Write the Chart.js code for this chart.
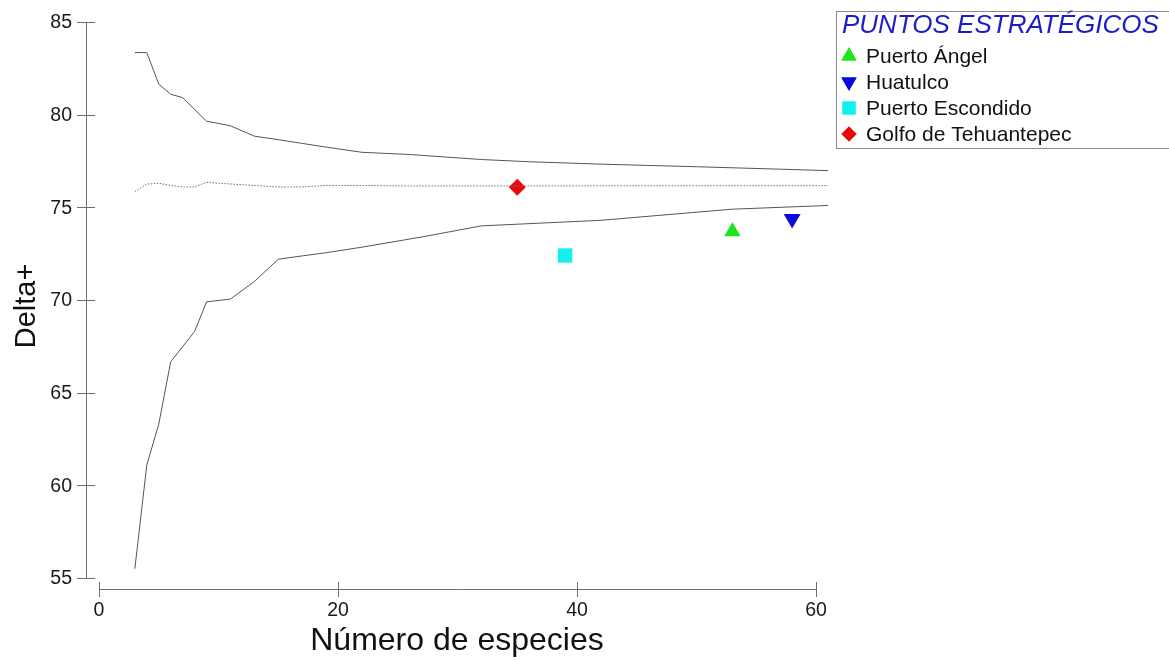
<!DOCTYPE html>
<html>
<head>
<meta charset="utf-8">
<script src="https://cdn.jsdelivr.net/npm/chart.js@4/dist/chart.umd.min.js"></script>
<style>
  html, body { margin: 0; padding: 0; background: #fff; }
  #wrap { width: 1169px; height: 660px; }
</style>
</head>
<body>
<div id="wrap"><canvas id="c" width="1169" height="660"></canvas></div>
<script>
// Funnel of expected Delta+ (95% limits and mean) vs. number of species
const upperX = [3, 4, 5, 6, 7, 9, 11, 13, 15, 17, 19, 22, 26, 32, 36, 42, 50, 58, 61];
const upperY = [83.35, 83.35, 81.65, 81.1, 80.92, 79.65, 79.4, 78.84, 78.65, 78.45, 78.25, 77.97, 77.85, 77.58, 77.46, 77.33, 77.19, 77.04, 76.98];

const meanX = [3, 4, 5, 6, 7, 8, 9, 10, 12, 15, 17, 19, 22, 26, 61];
const meanY = [75.85, 76.25, 76.3, 76.18, 76.1, 76.1, 76.35, 76.3, 76.22, 76.1, 76.1, 76.18, 76.18, 76.15, 76.17];

const lowerX = [3, 4, 5, 6, 7, 8, 9, 11, 13, 15, 17, 19, 22, 27, 32, 42, 53, 61];
const lowerY = [55.5, 61.1, 63.3, 66.67, 67.48, 68.3, 69.9, 70.05, 71.0, 72.2, 72.38, 72.55, 72.85, 73.4, 74.0, 74.3, 74.9, 75.1];

// Sites: number of species and Delta+
const siteNames = ['Puerto Ángel', 'Huatulco', 'Puerto Escondido', 'Golfo de Tehuantepec'];
const siteSpecies = [53, 58, 39, 35];
const siteDelta = [73.7, 74.38, 72.4, 76.08];
const siteColors = ['#1ee61e', '#0a0adc', '#14f0f0', '#e60a0a'];
const siteStyles = ['triangle', 'triangle', 'rect', 'rectRot'];
const siteRotation = [0, 180, 0, 0];
const siteRadius = [9.5, 9.8, 10.2, 8.5];

const legendTitle = 'PUNTOS ESTRATÉGICOS';
const xTitle = 'Número de especies';
const yTitle = 'Delta+';
const xTicks = [0, 20, 40, 60];
const yTicks = [55, 60, 65, 70, 75, 80, 85];

const FONT = '"Liberation Sans", Arial, Helvetica, sans-serif';

function toPoints(xs, ys) { return xs.map((x, i) => ({ x: x, y: ys[i] })); }

const lineStyle = { showLine: true, pointRadius: 0, borderWidth: 1, tension: 0, fill: false };

const datasets = [
  Object.assign({ label: 'upper', data: toPoints(upperX, upperY), borderColor: '#555555' }, lineStyle),
  Object.assign({ label: 'mean', data: toPoints(meanX, meanY), borderColor: '#707070', borderDash: [1.5, 1.5] }, lineStyle),
  Object.assign({ label: 'lower', data: toPoints(lowerX, lowerY), borderColor: '#555555' }, lineStyle)
];
siteNames.forEach((name, i) => {
  datasets.push({
    label: name,
    data: [{ x: siteSpecies[i], y: siteDelta[i] }],
    showLine: false,
    pointStyle: siteStyles[i],
    rotation: siteRotation[i],
    pointRadius: siteRadius[i],
    pointHoverRadius: siteRadius[i],
    backgroundColor: siteColors[i],
    borderColor: siteColors[i],
    borderWidth: 0
  });
});

// Offset axes with ticks crossing the axis line, plus a boxed legend
const axesPlugin = {
  id: 'offsetAxes',
  afterDraw(chart) {
    const ctx = chart.ctx;
    const xs = chart.scales.x, ys = chart.scales.y;
    ctx.save();
    ctx.strokeStyle = '#6e6e6e';
    ctx.lineWidth = 1;

    // y axis
    const ax = 86.5;
    const yTop = ys.getPixelForValue(yTicks[yTicks.length - 1]);
    const yBot = ys.getPixelForValue(yTicks[0]);
    ctx.beginPath();
    ctx.moveTo(ax, yTop); ctx.lineTo(ax, yBot);
    yTicks.forEach(v => {
      const py = Math.round(ys.getPixelForValue(v)) + 0.5;
      ctx.moveTo(77, py); ctx.lineTo(95, py);
    });
    ctx.stroke();
    ctx.fillStyle = '#1a1a1a';
    ctx.font = '19.5px ' + FONT;
    ctx.textAlign = 'right';
    ctx.textBaseline = 'middle';
    yTicks.forEach(v => ctx.fillText(String(v), 72, ys.getPixelForValue(v) + 1));

    // x axis
    const ay = 589.5;
    ctx.beginPath();
    ctx.moveTo(xs.getPixelForValue(xTicks[0]), ay);
    ctx.lineTo(xs.getPixelForValue(xTicks[xTicks.length - 1]), ay);
    xTicks.forEach(v => {
      const px = Math.round(xs.getPixelForValue(v)) + 0.5;
      ctx.moveTo(px, 582); ctx.lineTo(px, 597);
    });
    ctx.stroke();
    ctx.textAlign = 'center';
    xTicks.forEach(v => ctx.fillText(String(v), xs.getPixelForValue(v), 611));

    // axis titles
    ctx.fillStyle = '#111';
    ctx.font = '32px ' + FONT;
    ctx.fillText(xTitle, 457, 641);
    ctx.save();
    ctx.translate(27, 306);
    ctx.rotate(-Math.PI / 2);
    ctx.font = '29px ' + FONT;
    ctx.fillText(yTitle, 0, 0);
    ctx.restore();

    // legend box
    ctx.strokeStyle = '#8a8a8a';
    ctx.strokeRect(836.5, 11.5, 340, 137);
    ctx.fillStyle = '#1c1cc8';
    ctx.font = 'italic 26px ' + FONT;
    ctx.textAlign = 'left';
    ctx.fillText(legendTitle, 842, 26);
    ctx.font = '21px ' + FONT;
    const rowY = [56, 82, 108, 134];
    const legRadius = [8.8, 8.8, 9.2, 7.5];
    siteNames.forEach((name, i) => {
      ctx.fillStyle = siteColors[i];
      ctx.strokeStyle = siteColors[i];
      Chart.helpers.drawPoint(ctx, {
        pointStyle: siteStyles[i], rotation: siteRotation[i], radius: legRadius[i], borderWidth: 0
      }, 849, rowY[i]);
      ctx.fill();
      ctx.fillStyle = '#111';
      ctx.fillText(name, 866, rowY[i] + 1);
    });
    ctx.restore();
  }
};

new Chart(document.getElementById('c'), {
  type: 'scatter',
  data: { datasets: datasets },
  options: {
    responsive: false,
    animation: false,
    events: [],
    layout: { padding: { left: 99, right: 341, top: 22, bottom: 82 } },
    plugins: { legend: { display: false }, tooltip: { enabled: false } },
    scales: {
      x: { type: 'linear', min: 0, max: 61, display: false },
      y: { type: 'linear', min: 55, max: 85, display: false }
    }
  },
  plugins: [axesPlugin]
});
</script>
</body>
</html>
